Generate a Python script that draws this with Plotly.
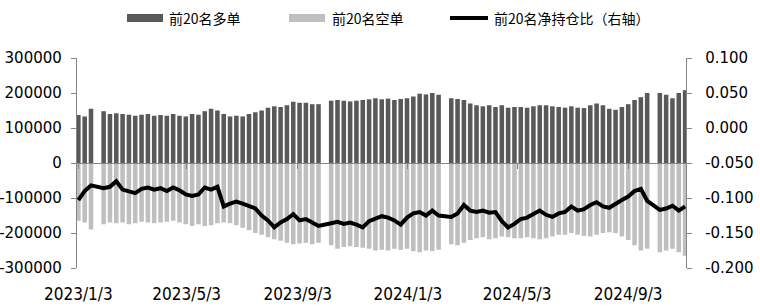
import pandas as pd
import plotly.graph_objects as go

# weekly sampling; None = market holiday week
week_dates = pd.date_range("2023-01-03", periods=97, freq="7D")

long_top20 = [137000, 133000, 155000, None, 148000, 140000, 142000, 140000, 138000, 135000,
              138000, 140000, 135000, 137000, 135000, 140000, 135000, 133000, 140000, 138000,
              148000, 155000, 150000, 140000, 133000, 135000, 133000, 140000, 145000, 150000,
              158000, 162000, 160000, 165000, 175000, 172000, 172000, 168000, 168000, None,
              178000, 180000, 178000, 176000, 178000, 180000, 182000, 185000, 182000, 184000,
              180000, 183000, 185000, 190000, 198000, 196000, 200000, 195000, None, 185000,
              183000, 180000, 170000, 165000, 162000, 165000, 160000, 165000, 158000, 160000,
              160000, 158000, 162000, 165000, 165000, 162000, 160000, 158000, 162000, 158000,
              157000, 165000, 170000, 165000, 155000, 152000, 160000, 168000, 180000, 188000,
              200000, None, 200000, 195000, 185000, 200000, 208000]

short_top20 = [-165000, -170000, -190000, None, -175000, -170000, -172000, -170000, -175000, -172000,
               -168000, -170000, -172000, -170000, -168000, -165000, -170000, -175000, -180000, -175000,
               -180000, -178000, -172000, -170000, -172000, -178000, -185000, -192000, -200000, -205000,
               -212000, -218000, -222000, -228000, -232000, -230000, -228000, -232000, -228000, None,
               -235000, -245000, -240000, -238000, -240000, -242000, -245000, -250000, -248000, -250000,
               -245000, -248000, -245000, -252000, -255000, -250000, -252000, -248000, None, -232000,
               -235000, -228000, -220000, -215000, -212000, -218000, -215000, -210000, -212000, -215000,
               -215000, -212000, -215000, -218000, -215000, -210000, -205000, -205000, -200000, -205000,
               -208000, -210000, -205000, -200000, -198000, -200000, -210000, -220000, -235000, -250000,
               -245000, None, -255000, -250000, -245000, -255000, -265000]

net_ratio = [-0.103, -0.090, -0.082, None, -0.086, -0.084, -0.076, -0.088, -0.090, -0.093,
             -0.087, -0.085, -0.088, -0.086, -0.090, -0.085, -0.089, -0.095, -0.097, -0.095,
             -0.085, -0.088, -0.084, -0.112, -0.108, -0.105, -0.108, -0.112, -0.115, -0.125,
             -0.132, -0.142, -0.135, -0.130, -0.123, -0.132, -0.130, -0.135, -0.140, None,
             -0.136, -0.134, -0.137, -0.135, -0.138, -0.142, -0.133, -0.130, -0.126, -0.128,
             -0.132, -0.138, -0.128, -0.122, -0.120, -0.125, -0.118, -0.125, None, -0.127,
             -0.122, -0.110, -0.118, -0.120, -0.118, -0.121, -0.120, -0.133, -0.142, -0.137,
             -0.130, -0.128, -0.123, -0.118, -0.124, -0.127, -0.122, -0.120, -0.112, -0.118,
             -0.116, -0.110, -0.106, -0.112, -0.114, -0.108, -0.103, -0.098, -0.090, -0.087,
             -0.104, None, -0.117, -0.115, -0.111, -0.118, -0.112]

x_tick_vals = ["2023-01-03", "2023-05-03", "2023-09-03", "2024-01-03", "2024-05-03", "2024-09-03"]
x_tick_text = ["2023/1/3", "2023/5/3", "2023/9/3", "2024/1/3", "2024/5/3", "2024/9/3"]
y_left_vals = [300000, 200000, 100000, 0, -100000, -200000, -300000]
y_left_text = ["300000", "200000", "100000", "0", "-100000", "-200000", "-300000"]
y_right_vals = [0.1, 0.05, 0.0, -0.05, -0.1, -0.15, -0.2]
y_right_text = ["0.100", "0.050", "0.000", "-0.050", "-0.100", "-0.150", "-0.200"]

names = ["前20名多单", "前20名空单", "前20名净持仓比（右轴）"]
c_long, c_short, c_line = "#595959", "#BFBFBF", "#000000"
axis_grey = "#868686"

fig = go.Figure()
fig.add_trace(go.Bar(x=week_dates, y=long_top20, name=names[0], marker_color=c_long,
                     marker_line_width=0, showlegend=False))
fig.add_trace(go.Bar(x=week_dates, y=short_top20, name=names[1], marker_color=c_short,
                     marker_line_width=0, showlegend=False))
fig.add_trace(go.Scatter(x=week_dates, y=net_ratio, name=names[2], yaxis="y2", mode="lines",
                         line=dict(color=c_line, width=4), connectgaps=True, showlegend=False))
# carrier for the zero-line axis (ticks at y=0)
fig.add_trace(go.Scatter(x=week_dates[:1], y=[0], xaxis="x2", mode="markers",
                         marker=dict(opacity=0), showlegend=False, hoverinfo="skip"))

L, R, T, B = 77, 74, 58, 39
W, H = 760, 307
pw, ph = W - L - R, H - T - B


def px_x(px):
    return (px - L) / pw


def px_y(py):
    return (H - B - py) / ph


xr = ["2023-01-01 12:00", "2024-11-06"]
tickfont_y = dict(family="DejaVu Sans", size=15, color="#000000")

fig.update_layout(
    width=W, height=H, margin=dict(l=L, r=R, t=T, b=B, autoexpand=False),
    paper_bgcolor="white", plot_bgcolor="white",
    barmode="relative", bargap=0.28,
    xaxis=dict(type="date", range=xr, tickvals=x_tick_vals, ticktext=x_tick_text,
               showgrid=False, zeroline=False, showline=False, ticks="", automargin=False,
               tickfont=dict(family="DejaVu Sans Condensed", size=17, color="#000000"),
               ticklabelstandoff=14),
    xaxis2=dict(type="date", matches="x", overlaying="x", anchor="free", position=0.5,
                range=xr, tickvals=x_tick_vals, showticklabels=False, showgrid=False,
                zeroline=False, showline=True, linecolor=axis_grey, linewidth=1.3,
                ticks="outside", ticklen=5, tickcolor=axis_grey, automargin=False),
    yaxis=dict(range=[-300000, 300000], tickvals=y_left_vals, ticktext=y_left_text,
               showgrid=False, zeroline=False, showline=True, linecolor=axis_grey, linewidth=1.3,
               ticks="outside", ticklen=5, tickcolor=axis_grey, tickfont=tickfont_y,
               ticklabelstandoff=6, automargin=False),
    yaxis2=dict(range=[-0.2, 0.1], tickvals=y_right_vals, ticktext=y_right_text,
                overlaying="y", side="right", showgrid=False, zeroline=False, showline=True,
                linecolor=axis_grey, linewidth=1.3, ticks="outside", ticklen=5,
                tickcolor=axis_grey, tickfont=tickfont_y, ticklabelstandoff=10,
                automargin=False),
    showlegend=False,
)

# legend drawn manually to match the wide swatches
legend_font = dict(family="Noto Sans CJK SC", size=14, color="#000000")
ly = 18
fig.add_shape(type="rect", xref="paper", yref="paper", x0=px_x(127), x1=px_x(163),
              y0=px_y(ly + 4), y1=px_y(ly - 4), fillcolor=c_long, line_width=0)
fig.add_shape(type="rect", xref="paper", yref="paper", x0=px_x(289), x1=px_x(325),
              y0=px_y(ly + 4), y1=px_y(ly - 4), fillcolor=c_short, line_width=0)
fig.add_shape(type="line", xref="paper", yref="paper", x0=px_x(450), x1=px_x(488),
              y0=px_y(ly), y1=px_y(ly), line=dict(color=c_line, width=4))
for tx, name in zip([167, 330, 492], names):
    fig.add_annotation(text=name, xref="paper", yref="paper", x=px_x(tx), y=px_y(ly),
                       xanchor="left", yanchor="middle", showarrow=False, font=legend_font)

fig.write_html("out.html")
